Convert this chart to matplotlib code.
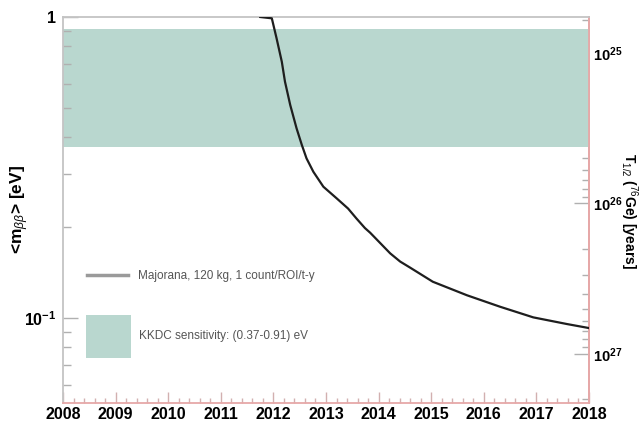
import numpy as np
import matplotlib
matplotlib.use("Agg")
import matplotlib.pyplot as plt
from matplotlib.ticker import FixedLocator, FuncFormatter, NullFormatter, MultipleLocator
from matplotlib.lines import Line2D
from matplotlib.patches import Patch

plt.rcParams['font.family'] = ['Liberation Sans', 'DejaVu Sans']
plt.rcParams['mathtext.fontset'] = 'custom'
plt.rcParams['mathtext.rm'] = 'Liberation Sans'
plt.rcParams['mathtext.it'] = 'Liberation Sans:italic'
plt.rcParams['mathtext.bf'] = 'Liberation Sans:bold'

# ---- data ----
years = [2011.75, 2011.97, 2012.06, 2012.16, 2012.22, 2012.32, 2012.44, 2012.54,
         2012.63, 2012.76, 2012.95, 2013.20, 2013.42, 2013.58, 2013.74, 2013.84,
         2014.22, 2014.41, 2014.60, 2015.03, 2015.68, 2016.31, 2016.94, 2017.58, 2018.0]
mass_ev = [1.0, 0.990, 0.850, 0.710, 0.610, 0.510, 0.427, 0.376,
           0.339, 0.306, 0.273, 0.250, 0.231, 0.214, 0.199, 0.192,
           0.164, 0.154, 0.147, 0.132, 0.119, 0.109, 0.1005, 0.0955, 0.0926]
kkdc_low = 0.37
kkdc_high = 0.91
half_life_at_1ev = 5.77e24   # T1/2 = half_life_at_1ev / m^2
x_ticks = list(range(2008, 2019))
left_major = [0.1, 1.0]
right_major = [1e25, 1e26, 1e27]
curve_label = "Majorana, 120 kg, 1 count/ROI/t-y"
band_label = "KKDC sensitivity: (0.37-0.91) eV"

W, H = 639, 428
fig = plt.figure(figsize=(W / 100, H / 100), dpi=100)
AX_L, AX_R, AX_T, AX_B = 63, 589, 17, 403
ax = fig.add_axes([AX_L / W, (H - AX_B) / H, (AX_R - AX_L) / W, (AX_B - AX_T) / H])

def axfrac(px, py):
    return ((px - AX_L) / (AX_R - AX_L), (AX_B - py) / (AX_B - AX_T))

band_color = '#b9d7cf'
ax.axhspan(kkdc_low, kkdc_high, color=band_color, lw=0, zorder=1)
ax.plot(years, mass_ev, color='#1e1e1e', lw=1.6, zorder=3)

ax.set_yscale('log')
ax.set_xlim(2008, 2018)
YMIN, YMAX = 0.0522, 1.0
ax.set_ylim(YMIN, YMAX)

gray = '#c4c4c4'
pink = '#e6a8a8'
for s in ('left', 'top'):
    ax.spines[s].set_color(gray)
    ax.spines[s].set_linewidth(1.3)
for s in ('right', 'bottom'):
    ax.spines[s].set_color(pink)
    ax.spines[s].set_linewidth(1.3)

# x axis
ax.xaxis.set_major_locator(FixedLocator(x_ticks))
ax.xaxis.set_minor_locator(MultipleLocator(0.2))
ax.set_xticklabels([str(y) for y in x_ticks])
ax.tick_params(axis='x', which='major', direction='in', length=8, width=1,
               color='#d2b0b0', labelsize=11.5, pad=3)
ax.tick_params(axis='x', which='minor', direction='in', length=3.8, width=1,
               color='#d2b0b0')
for lab in ax.get_xticklabels():
    lab.set_fontweight('bold')

# left y axis
left_minor = [s * 10.0 ** e for e in (-2, -1) for s in range(2, 10)
              if YMIN <= s * 10.0 ** e <= YMAX]
ax.yaxis.set_major_locator(FixedLocator(left_major))
ax.yaxis.set_minor_locator(FixedLocator(left_minor))
ax.yaxis.set_major_formatter(FuncFormatter(
    lambda v, p: r'$\mathbf{1}$' if abs(v - 1) < 1e-9 else r'$\mathbf{10^{%d}}$' % int(round(np.log10(v)))))
ax.yaxis.set_minor_formatter(NullFormatter())
ax.tick_params(axis='y', which='major', direction='in', length=11, width=1,
               color='#b0b0b0', labelsize=11.5, pad=5, right=False)
ax.tick_params(axis='y', which='minor', direction='in', length=5.5, width=1,
               color='#b0b0b0', right=False)

# right axis: half-life
def fwd(m):
    m = np.asarray(m, dtype=float)
    return half_life_at_1ev / np.maximum(m, 1e-30) ** 2

def inv(t):
    t = np.asarray(t, dtype=float)
    return np.sqrt(half_life_at_1ev / np.maximum(t, 1e-30))

tmin, tmax = float(fwd(YMAX)), float(fwd(YMIN))
right_minor = [s * 10.0 ** e for e in (24, 25, 26, 27) for s in range(2, 10)
               if tmin <= s * 10.0 ** e <= tmax]

sec = ax.secondary_yaxis('right', functions=(fwd, inv))
sec.yaxis.set_major_locator(FixedLocator(right_major))
sec.yaxis.set_minor_locator(FixedLocator(right_minor))
sec.yaxis.set_major_formatter(FuncFormatter(
    lambda v, p: r'$\mathbf{10^{%d}}$' % int(round(np.log10(v)))))
sec.yaxis.set_minor_formatter(NullFormatter())
sec.tick_params(axis='y', which='major', direction='in', length=11, width=1,
                color='#b0b0b0', labelsize=10.5, pad=3)
sec.tick_params(axis='y', which='minor', direction='in', length=5, width=1,
                color='#b0b0b0')
sec.spines['right'].set_color(pink)
sec.spines['right'].set_linewidth(1.3)

# axis titles
fig.text(20 / W, 1 - 210 / H, r'<m$_{\beta\beta}$> [eV]', rotation=90,
         ha='center', va='center', fontsize=12.5, fontweight='bold')
fig.text(629 / W, 1 - 211 / H, r'T$_{1/2}$ ($^{76}$Ge) [years]', rotation=-90,
         ha='center', va='center', fontsize=10, fontweight='bold')

# legend (two separate entries, like the ROOT TLegend)
fs = 8.5
leg1 = ax.legend([Line2D([0], [0], color='#9a9a9a', lw=2.5)], [curve_label],
                 loc='center left', bbox_to_anchor=axfrac(87, 276),
                 frameon=False, fontsize=fs, handlelength=3.47,
                 handletextpad=0.85, borderpad=0, borderaxespad=0)
for t in leg1.get_texts():
    t.set_color('#555555')
ax.add_artist(leg1)
leg2 = ax.legend([Patch(facecolor=band_color, edgecolor='none')], [band_label],
                 loc='upper left', bbox_to_anchor=axfrac(86, 315),
                 frameon=False, fontsize=fs, handlelength=3.81, handleheight=5.23,
                 handletextpad=0.68, borderpad=0, borderaxespad=0)
for t in leg2.get_texts():
    t.set_color('#555555')

fig.savefig('out.png', dpi=100)
